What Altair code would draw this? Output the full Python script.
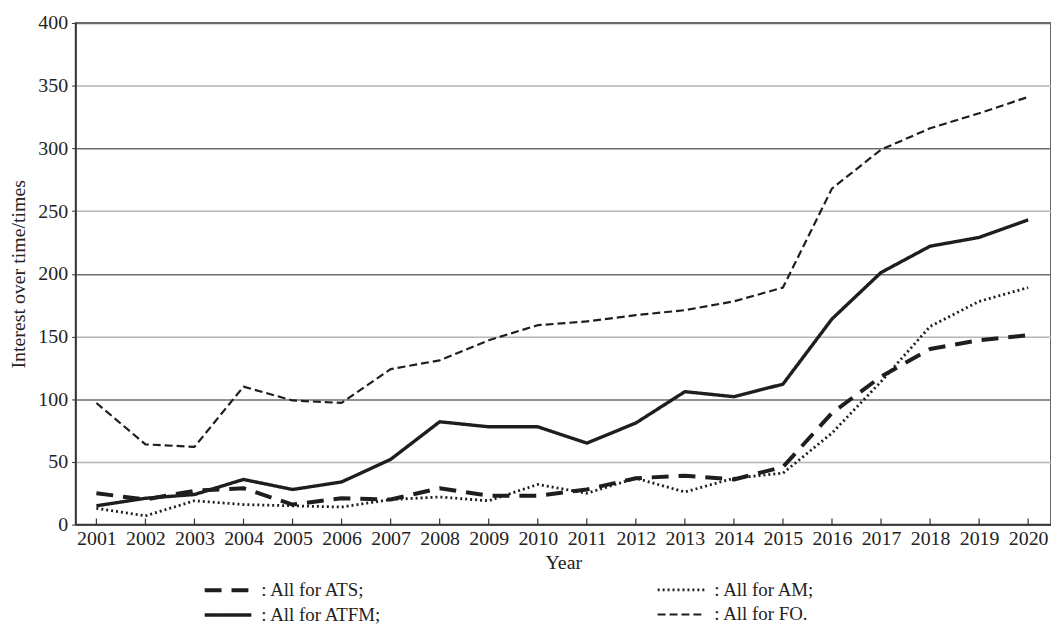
import altair as alt
import pandas as pd

years = list(range(2001, 2021))
series_names = ["ATS", "ATFM", "AM", "FO"]
ats = [25, 20, 27, 29, 16, 21, 20, 29, 23, 23, 28, 37, 39, 36, 46, 89, 118, 140, 147, 151]
atfm = [15, 21, 24, 36, 28, 34, 52, 82, 78, 78, 65, 81, 106, 102, 112, 164, 201, 222, 229, 243]
am = [13, 7, 19, 16, 15, 14, 20, 22, 19, 32, 25, 37, 26, 37, 41, 73, 114, 158, 178, 189]
fo = [97, 64, 62, 110, 99, 97, 124, 131, 147, 159, 162, 167, 171, 178, 189, 268, 299, 316, 328, 341]
y_ticks = [0, 50, 100, 150, 200, 250, 300, 350, 400]

rows = []
for name, vals in zip(series_names, [ats, atfm, am, fo]):
    for yr, v in zip(years, vals):
        rows.append({"year": yr, "value": v, "series": name})
df = pd.DataFrame(rows)
tick_df = pd.DataFrame({"year": years})

dash_range = [[17, 10], [1, 0], [2, 3], [8, 4]]
width_range = [4, 2.2, 2.2, 3]

FONT = "Liberation Serif"
x_scale = alt.Scale(domain=[2000.575, 2020.466], nice=False, zero=False)
y_scale = alt.Scale(domain=[0, 400], nice=False)

x_axis = alt.Axis(values=years, format="d", title="Year", ticks=False, grid=False,
                  labelPadding=4, titlePadding=4)

lines = alt.Chart(df).mark_line(color="#1e1e1e", strokeCap="butt", strokeJoin="round").encode(
    x=alt.X("year:Q", scale=x_scale, axis=x_axis),
    y=alt.Y("value:Q", scale=y_scale,
            axis=alt.Axis(values=y_ticks, title="Interest over time/times", tickSize=4,
                          labelPadding=4, titlePadding=9, grid=True,
                          gridColor={"condition": {"test": "datum.value % 100 === 0", "value": "#6e6e6e"},
                                     "value": "#b5b5b5"},
                          gridWidth=1.5)),
    strokeDash=alt.StrokeDash("series:N", scale=alt.Scale(domain=series_names, range=dash_range),
                              legend=alt.Legend(orient="none", legendX=128, legendY=559, columns=2,
                                                columnPadding=271, rowPadding=3, title=None,
                                                symbolType="M-1,0H3.7", symbolSize=400,
                                                symbolStrokeColor="#1e1e1e",
                                                symbolFillColor="transparent", labelOffset=35,
                                                labelFont=FONT, labelFontSize=19, labelColor="#222",
                                                padding=0,
                                                labelExpr="': All for ' + datum.label + (datum.label == 'FO' ? '.' : ';')")),
    strokeWidth=alt.StrokeWidth("series:N", scale=alt.Scale(domain=series_names, range=width_range)),
)

ticks = alt.Chart(tick_df).mark_rule(color="#333", strokeWidth=1.2).encode(
    x=alt.X("year:Q", scale=x_scale, axis=x_axis),
    y=alt.datum(0),
    y2=alt.datum(4.8),
)

chart = alt.layer(lines, ticks).properties(
    width=982, height=505,
    padding={"left": 68, "top": 13, "right": 0, "bottom": 100},
    autosize=alt.AutoSizeParams(type="none"),
).configure_view(
    stroke="#333", strokeWidth=1.5
).configure_axis(
    domainColor="#333", domainWidth=1.5, tickColor="#333",
    labelFont=FONT, titleFont=FONT, labelFontSize=20, titleFontSize=20,
    labelColor="#222", titleColor="#222", titleFontWeight="normal",
)

chart.save("out.html", embed_options={"renderer": "svg", "actions": False})
